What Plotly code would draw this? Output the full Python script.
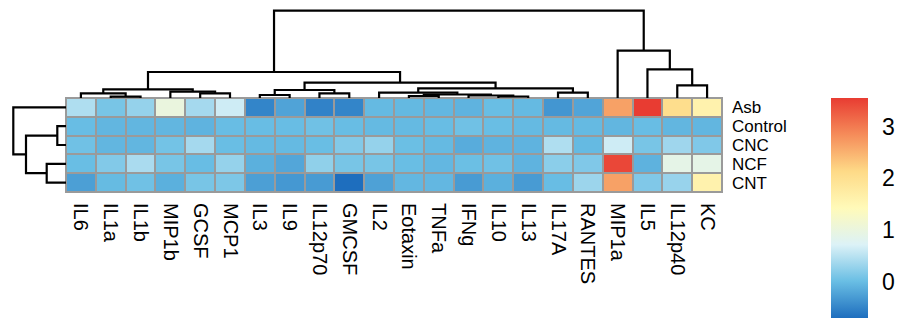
import plotly.graph_objects as go

# ---------------- data ----------------
cols = ["IL6", "IL1a", "IL1b", "MIP1b", "GCSF", "MCP1", "IL3", "IL9", "IL12p70", "GMCSF",
        "IL2", "Eotaxin", "TNFa", "IFNg", "IL10", "IL13", "IL17A", "RANTES", "MIP1a", "IL5",
        "IL12p40", "KC"]
rows = ["Asb", "Control", "CNC", "NCF", "CNT"]

asb     = [0.44, 0.10, 0.28, 1.00, 0.38, 0.63, -0.50, -0.23, -0.52, -0.50, -0.03, -0.04, -0.05, -0.09, 0.01, -0.03, -0.35, -0.22, 2.65, 3.55, 2.05, 1.60]
control = [0.00, -0.06, -0.06, -0.06, -0.09, 0.00, 0.00, 0.00, 0.05, 0.00, -0.03, -0.03, 0.00, 0.05, 0.01, -0.03, -0.03, -0.03, -0.06, 0.00, -0.06, -0.06]
cnc     = [0.05, -0.06, -0.06, 0.07, 0.38, 0.01, -0.03, -0.03, 0.01, 0.16, 0.28, 0.02, -0.03, -0.15, -0.09, -0.09, 0.44, -0.03, 0.63, 0.10, 0.34, 0.15]
ncf     = [0.01, 0.16, 0.41, 0.10, 0.00, 0.28, -0.12, -0.20, 0.25, 0.10, 0.10, 0.01, -0.05, 0.02, 0.05, -0.09, 0.22, 0.15, 3.45, -0.10, 0.90, 0.90]
cnt     = [-0.27, -0.02, 0.05, -0.12, 0.10, 0.13, -0.27, -0.33, -0.30, -0.70, -0.25, -0.05, -0.05, -0.30, -0.12, -0.30, 0.00, 0.32, 2.65, 0.15, 0.30, 1.60]

# hierarchical clustering merges (scipy-like: ids < n are leaves, n+k is merge k)
col_merge_left   = [1, 0, 4, 3, 23, 6, 8, 27, 14, 13, 11, 32, 10, 16, 34, 29, 26, 20, 19, 18, 38]
col_merge_right  = [2, 22, 5, 24, 25, 7, 9, 28, 15, 30, 12, 31, 33, 17, 35, 36, 37, 21, 39, 40, 41]
col_merge_height = [1.3, 4.7, 4.7, 6.3, 8.7, 3.0, 4.7, 8.0, 1.5, 2.5, 2.0, 3.5, 5.3, 5.3, 9.7, 15.3, 26.0, 12.7, 28.7, 47.3, 87.3]

row_merge_left   = [1, 3, 5, 0]
row_merge_right  = [2, 4, 6, 7]
row_merge_height = [8.7, 19.3, 40.0, 52.7]

colorbar_ticks = [0, 1, 2, 3]

# ---------------- helpers ----------------
def dendro_lines(n, left, right, height):
    pos = {i: float(i) for i in range(n)}
    hts = {i: 0.0 for i in range(n)}
    xs, hs = [], []
    for k, (a, b, h) in enumerate(zip(left, right, height)):
        xa, xb = pos[a], pos[b]
        xs += [xa, xa, xb, xb, None]
        hs += [hts[a], h, h, hts[b], None]
        pos[n + k] = (xa + xb) / 2
        hts[n + k] = h
    return xs, hs

W, H = 907, 320
hm_x0, hm_x1 = 66 / W, 722 / W
hm_y0, hm_y1 = (H - 192) / H, (H - 98) / H

z = [asb, control, cnc, ncf, cnt]

colorscale = [
    [0.0, "rgb(30,110,190)"],
    [1 / 6, "rgb(105,190,228)"],
    [2 / 6, "rgb(220,242,247)"],
    [3 / 6, "rgb(255,250,185)"],
    [4 / 6, "rgb(254,218,135)"],
    [5 / 6, "rgb(245,140,90)"],
    [1.0, "rgb(232,60,50)"],
]

fig = go.Figure()

fig.add_trace(go.Heatmap(
    z=z, x=list(range(len(cols))), y=list(range(len(rows))),
    colorscale=colorscale, zmin=-0.70, zmax=3.55,
    xgap=2, ygap=2, hoverinfo="skip",
    colorbar=dict(
        x=831 / W, xanchor="left", xpad=0,
        y=(H - 208) / H, yanchor="middle", ypad=0,
        len=220, lenmode="pixels",
        thickness=37, thicknessmode="pixels",
        outlinewidth=0,
        tickvals=colorbar_ticks,
        ticks="outside", ticklen=10, tickcolor="rgba(0,0,0,0)",
        tickfont=dict(family="Liberation Sans, Arial, sans-serif", size=23, color="black"),
    ),
))

# column dendrogram
cx, ch = dendro_lines(len(cols), col_merge_left, col_merge_right, col_merge_height)
fig.add_trace(go.Scatter(x=cx, y=ch, mode="lines", xaxis="x2", yaxis="y2",
                         line=dict(color="black", width=2.2), hoverinfo="skip", showlegend=False))

# row dendrogram
ry, rh = dendro_lines(len(rows), row_merge_left, row_merge_right, row_merge_height)
fig.add_trace(go.Scatter(x=rh, y=ry, mode="lines", xaxis="x3", yaxis="y",
                         line=dict(color="black", width=2.2), hoverinfo="skip", showlegend=False))

font_lbl = dict(family="Liberation Sans, Arial, sans-serif", size=17, color="black")

fig.update_layout(
    width=W, height=H,
    margin=dict(l=0, r=0, t=0, b=0),
    paper_bgcolor="white", plot_bgcolor="white",
    showlegend=False,
    xaxis=dict(domain=[hm_x0, hm_x1], range=[-0.5, len(cols) - 0.5],
               tickvals=list(range(len(cols))), ticktext=cols, tickangle=90,
               tickfont=dict(family="Liberation Sans, Arial, sans-serif", size=20, color="black"),
               ticks="", showgrid=False, zeroline=False, showline=False,
               automargin=False, ticklabelstandoff=10, anchor="y"),
    yaxis=dict(domain=[hm_y0, hm_y1], range=[len(rows) - 0.5, -0.5],
               tickvals=list(range(len(rows))), ticktext=rows, side="right",
               tickfont=font_lbl, ticks="", showgrid=False, zeroline=False, showline=False,
               automargin=False, ticklabelstandoff=9, anchor="x"),
    xaxis2=dict(domain=[hm_x0, hm_x1], range=[-0.5, len(cols) - 0.5], anchor="y2",
                visible=False),
    yaxis2=dict(domain=[hm_y1, 1.0], range=[0, 98], anchor="x2", visible=False),
    xaxis3=dict(domain=[0, hm_x0], range=[66, 0], anchor="y", visible=False),
    shapes=[dict(type="rect", xref="x domain", yref="y domain", x0=0, x1=1, y0=0, y1=1,
                 line=dict(color="#9a9a9a", width=2), fillcolor="#9a9a9a", layer="below")],
)

fig.write_html("out.html", config={"displayModeBar": False, "staticPlot": True},
               post_script="document.body.style.margin='0px';document.body.style.overflow='hidden';")
